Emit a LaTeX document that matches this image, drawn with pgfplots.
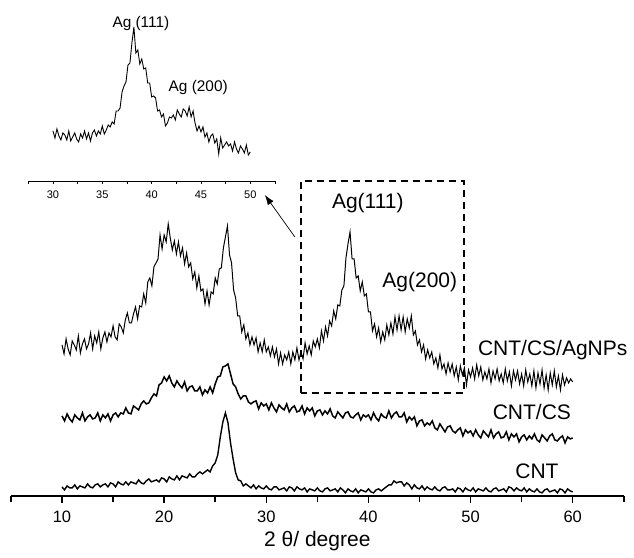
\documentclass[border=0pt]{standalone}
\usepackage{fontspec}
\setmainfont{Liberation Sans}
\usepackage{pgfplots}
\pgfplotsset{compat=1.18}
\usetikzlibrary{arrows.meta}

\begin{document}
\begin{tikzpicture}
% main XRD patterns
\begin{axis}[
  name=main, at={(0pt,0pt)}, anchor=south west,
  scale only axis, width=306.5pt, height=248pt,
  xmin=5, xmax=65, ymin=0, ymax=496,
  axis x line*=bottom, axis y line=none,
  xtick={10,20,...,60}, minor xtick={5,15,...,65},
  tick align=outside, major tick length=3.5pt, minor tick length=3pt,
  axis line style={line width=0.75pt},
  every tick/.style={line width=0.75pt, black},
  tick label style={font=\fontsize{8.25}{10}\selectfont},
  xticklabel style={yshift=-0.5pt},
  /pgf/number format/assume math mode=true,
  xlabel={2 θ/ degree},
  xlabel style={font=\fontsize{10.5}{12}\selectfont, yshift=2.5pt},
  clip=false,
]
\addplot[black, no markers, line width=0.5pt] coordinates {(10.0,151)(10.2,142)(10.4,157)(10.6,147)(10.8,141)(11.0,155)(11.2,151)(11.4,146)(11.6,160)(11.8,143)
(12.0,152)(12.2,157)(12.4,147)(12.6,152)(12.8,163)(13.0,147)(13.2,160)(13.4,153)(13.6,164)(13.8,147)
(14.0,158)(14.2,164)(14.4,154)(14.6,163)(14.8,159)(15.0,170)(15.2,159)(15.4,156)(15.6,172)(15.8,169)
(16.0,163)(16.2,176)(16.4,183)(16.6,173)(16.8,173)(17.0,182)(17.2,189)(17.4,177)(17.6,190)(17.8,189)
(18.0,202)(18.2,193)(18.4,214)(18.6,218)(18.8,210)(19.0,229)(19.2,233)(19.4,237)(19.6,261)(19.8,247)
(20.0,261)(20.2,254)(20.4,272)(20.6,258)(20.8,246)(21.0,255)(21.2,242)(21.4,254)(21.6,240)(21.8,248)
(22.0,232)(22.2,243)(22.4,229)(22.6,233)(22.8,217)(23.0,224)(23.2,208)(23.4,220)(23.6,205)(23.8,207)
(24.0,192)(24.2,205)(24.4,191)(24.6,204)(24.8,202)(25.0,218)(25.2,212)(25.4,227)(25.6,228)(25.8,248)
(26.0,259)(26.2,270)(26.4,241)(26.6,233)(26.8,206)(27.0,198)(27.2,180)(27.4,180)(27.6,164)(27.8,171)
(28.0,157)(28.2,163)(28.4,151)(28.6,159)(28.8,151)(29.0,158)(29.2,144)(29.4,153)(29.6,144)(29.8,156)
(30.0,144)(30.2,149)(30.4,140)(30.6,149)(30.8,139)(31.0,147)(31.2,132)(31.4,143)(31.6,132)(31.8,141)
(32.0,136)(32.2,144)(32.4,132)(32.6,144)(32.8,136)(33.0,148)(33.2,136)(33.4,144)(33.6,137)(33.8,153)
(34.0,142)(34.2,150)(34.4,141)(34.6,155)(34.8,149)(35.0,157)(35.2,148)(35.4,165)(35.6,155)(35.8,169)
(36.0,160)(36.2,175)(36.4,170)(36.6,185)(36.8,177)(37.0,191)(37.2,190)(37.4,206)(37.6,210)(37.8,238)
(38.0,252)(38.2,264)(38.4,237)(38.6,237)(38.8,218)(39.0,220)(39.2,205)(39.4,214)(39.6,200)(39.8,202)
(40.0,184)(40.2,184)(40.4,165)(40.6,172)(40.8,159)(41.0,168)(41.2,154)(41.4,164)(41.6,156)(41.8,171)
(42.0,161)(42.2,173)(42.4,162)(42.6,179)(42.8,166)(43.0,180)(43.2,166)(43.4,179)(43.6,164)(43.8,177)
(44.0,168)(44.2,180)(44.4,161)(44.6,165)(44.8,151)(45.0,156)(45.2,144)(45.4,151)(45.6,137)(45.8,146)
(46.0,138)(46.2,144)(46.4,132)(46.6,138)(46.8,128)(47.0,141)(47.2,127)(47.4,132)(47.6,122)(47.8,133)
(48.0,124)(48.2,132)(48.4,120)(48.6,129)(48.8,116)(49.0,130)(49.2,121)(49.4,128)(49.6,111)(49.8,126)
(50.0,119)(50.2,128)(50.4,117)(50.6,131)(50.8,120)(51.0,129)(51.2,116)(51.4,124)(51.6,117)(51.8,127)
(52.0,113)(52.2,125)(52.4,117)(52.6,127)(52.8,115)(53.0,122)(53.2,113)(53.4,127)(53.6,115)(53.8,124)
(54.0,110)(54.2,125)(54.4,116)(54.6,125)(54.8,112)(55.0,122)(55.2,110)(55.4,126)(55.6,114)(55.8,122)
(56.0,110)(56.2,125)(56.4,108)(56.6,123)(56.8,112)(57.0,126)(57.2,108)(57.4,121)(57.6,106)(57.8,123)
(58.0,111)(58.2,125)(58.4,109)(58.6,120)(58.8,106)(59.0,121)(59.2,111)(59.4,118)(59.6,113)(59.8,117)
(60.0,114)};
% CNT/CS
\addplot[black, no markers, line width=0.75pt] coordinates {(10.00,80)(10.25,75)(10.50,82)(10.75,77)(11.00,74)(11.25,81)(11.50,78)(11.75,76)
(12.00,83)(12.25,75)(12.50,79)(12.75,81)(13.00,77)(13.25,78)(13.50,83)(13.75,75)
(14.00,81)(14.25,78)(14.50,82)(14.75,75)(15.00,81)(15.25,83)(15.50,79)(15.75,83)
(16.00,82)(16.25,88)(16.50,83)(16.75,82)(17.00,90)(17.25,88)(17.50,86)(17.75,92)
(18.00,95)(18.25,92)(18.50,93)(18.75,98)(19.00,102)(19.25,100)(19.50,111)(19.75,113)
(20.00,119)(20.25,115)(20.50,120)(20.75,113)(21.00,109)(21.25,115)(21.50,111)(21.75,108)
(22.00,114)(22.25,105)(22.50,109)(22.75,110)(23.00,105)(23.25,105)(23.50,109)(23.75,101)
(24.00,106)(24.25,103)(24.50,109)(24.75,103)(25.00,112)(25.25,119)(25.50,120)(25.75,129)
(26.00,130)(26.25,132)(26.50,122)(26.75,112)(27.00,109)(27.25,102)(27.50,97)(27.75,100)
(28.00,100)(28.25,94)(28.50,92)(28.75,94)(29.00,95)(29.25,87)(29.50,93)(29.75,90)
(30.00,92)(30.25,86)(30.50,93)(30.75,88)(31.00,84)(31.25,91)(31.50,88)(31.75,86)
(32.00,92)(32.25,84)(32.50,88)(32.75,90)(33.00,84)(33.25,85)(33.50,90)(33.75,82)
(34.00,88)(34.25,85)(34.50,88)(34.75,80)(35.00,85)(35.25,86)(35.50,81)(35.75,85)
(36.00,82)(36.25,87)(36.50,80)(36.75,78)(37.00,84)(37.25,81)(37.50,78)(37.75,83)
(38.00,84)(38.25,79)(38.50,78)(38.75,81)(39.00,83)(39.25,76)(39.50,81)(39.75,79)
(40.00,81)(40.25,76)(40.50,83)(40.75,78)(41.00,75)(41.25,82)(41.50,79)(41.75,78)
(42.00,85)(42.25,78)(42.50,82)(42.75,84)(43.00,79)(43.25,79)(43.50,83)(43.75,74)
(44.00,79)(44.25,76)(44.50,79)(44.75,70)(45.00,75)(45.25,76)(45.50,70)(45.75,73)
(46.00,71)(46.25,75)(46.50,68)(46.75,66)(47.00,72)(47.25,68)(47.50,64)(47.75,69)
(48.00,70)(48.25,65)(48.50,63)(48.75,66)(49.00,68)(49.25,60)(49.50,66)(49.75,63)
(50.00,65)(50.25,60)(50.50,66)(50.75,61)(51.00,58)(51.25,65)(51.50,62)(51.75,59)
(52.00,66)(52.25,58)(52.50,62)(52.75,64)(53.00,58)(53.25,59)(53.50,64)(53.75,56)
(54.00,62)(54.25,59)(54.50,62)(54.75,54)(55.00,59)(55.25,61)(55.50,56)(55.75,60)
(56.00,57)(56.25,62)(56.50,56)(56.75,54)(57.00,61)(57.25,58)(57.50,55)(57.75,60)
(58.00,62)(58.25,56)(58.50,55)(58.75,58)(59.00,60)(59.25,53)(59.50,59)(59.75,57)
(60.00,58)};
% CNT
\addplot[black, no markers, line width=0.7pt] coordinates {(10.00,9)(10.25,6)(10.50,10)(10.75,8)(11.00,8)(11.25,11)(11.50,7)(11.75,10)
(12.00,9)(12.25,8)(12.50,12)(12.75,9)(13.00,8)(13.25,11)(13.50,12)(13.75,9)
(14.00,11)(14.25,12)(14.50,9)(14.75,13)(15.00,12)(15.25,9)(15.50,14)(15.75,12)
(16.00,11)(16.25,14)(16.50,11)(16.75,14)(17.00,13)(17.25,12)(17.50,16)(17.75,13)
(18.00,12)(18.25,15)(18.50,17)(18.75,14)(19.00,15)(19.25,16)(19.50,14)(19.75,18)
(20.00,17)(20.25,14)(20.50,19)(20.75,17)(21.00,16)(21.25,20)(21.50,16)(21.75,20)
(22.00,19)(22.25,18)(22.50,22)(22.75,19)(23.00,19)(23.25,22)(23.50,24)(23.75,22)
(24.00,24)(24.25,26)(24.50,24)(24.75,30)(25.00,33)(25.25,41)(25.50,59)(25.75,74)
(26.00,83)(26.25,73)(26.50,53)(26.75,37)(27.00,23)(27.25,16)(27.50,15)(27.75,10)
(28.00,12)(28.25,10)(28.50,8)(28.75,11)(29.00,7)(29.25,10)(29.50,8)(29.75,7)
(30.00,10)(30.25,7)(30.50,6)(30.75,9)(31.00,9)(31.25,6)(31.50,7)(31.75,8)
(32.00,5)(32.25,9)(32.50,8)(32.75,5)(33.00,9)(33.25,7)(33.50,6)(33.75,8)
(34.00,4)(34.25,7)(34.50,6)(34.75,5)(35.00,8)(35.25,5)(35.50,4)(35.75,7)
(36.00,8)(36.25,5)(36.50,6)(36.75,7)(37.00,4)(37.25,8)(37.50,6)(37.75,3)
(38.00,7)(38.25,5)(38.50,4)(38.75,7)(39.00,3)(39.25,6)(39.50,5)(39.75,4)
(40.00,7)(40.25,4)(40.50,3)(40.75,6)(41.00,7)(41.25,5)(41.50,7)(41.75,9)
(42.00,11)(42.25,11)(42.50,15)(42.75,13)(43.00,14)(43.25,14)(43.50,10)(43.75,13)
(44.00,11)(44.25,7)(44.50,11)(44.75,8)(45.00,7)(45.25,10)(45.50,6)(45.75,9)
(46.00,7)(46.25,6)(46.50,9)(46.75,6)(47.00,5)(47.25,8)(47.50,9)(47.75,6)
(48.00,6)(48.25,7)(48.50,4)(48.75,8)(49.00,7)(49.25,4)(49.50,8)(49.75,6)
(50.00,5)(50.25,8)(50.50,4)(50.75,7)(51.00,6)(51.25,5)(51.50,8)(51.75,5)
(52.00,4)(52.25,7)(52.50,8)(52.75,5)(53.00,6)(53.25,7)(53.50,4)(53.75,9)
(54.00,8)(54.25,5)(54.50,8)(54.75,6)(55.00,5)(55.25,8)(55.50,4)(55.75,7)
(56.00,5)(56.25,4)(56.50,7)(56.75,4)(57.00,3)(57.25,6)(57.50,7)(57.75,4)
(58.00,5)(58.25,6)(58.50,3)(58.75,7)(59.00,6)(59.25,3)(59.50,7)(59.75,5)
(60.00,4)};
\node[font=\fontsize{10.5}{12}\selectfont] at (axis cs:39.94,293) {Ag(111)};
\node[font=\fontsize{10.5}{12}\selectfont] at (axis cs:45.03,214) {Ag(200)};
\node[font=\fontsize{10.5}{12}\selectfont] at (axis cs:58.04,146) {CNT/CS/AgNPs};
\node[font=\fontsize{10.5}{12}\selectfont] at (axis cs:56.0,84) {CNT/CS};
\node[font=\fontsize{10.5}{12}\selectfont] at (axis cs:56.5,25) {CNT};
\draw[line width=1pt, dash pattern=on 3.5pt off 2.5pt] (axis cs:33.36,103) rectangle (axis cs:49.33,315);
\draw[line width=0.35pt, -{Latex[length=5pt,width=3.5pt]}] (axis cs:32.8,259) -- (axis cs:29.86,301);
\path (axis cs:3.93,-54) rectangle (axis cs:65.97,496);
\end{axis}
% inset
\begin{axis}[
  at={(8.7pt,157.5pt)}, anchor=south west,
  scale only axis, width=123.35pt, height=90.5pt,
  xmin=27.5, xmax=52.5, ymin=0, ymax=181,
  axis x line*=bottom, axis y line=none,
  xtick={30,35,...,50}, minor xtick={27.5,32.5,...,52.5},
  tick align=outside, major tick length=1.5pt, minor tick length=1.5pt,
  axis line style={line width=0.4pt},
  every tick/.style={line width=0.4pt, black},
  tick label style={font=\fontsize{5.5}{6.5}\selectfont},
  /pgf/number format/assume math mode=true,
  clip=false,
]
\addplot[black, no markers, line width=0.45pt] coordinates {(30.0,50)(30.2,43)(30.4,52)(30.6,45)(30.8,41)(31.0,48)(31.2,46)(31.4,41)(31.6,50)(31.8,40)
(32.0,44)(32.2,48)(32.4,42)(32.6,39)(32.8,47)(33.0,43)(33.2,50)(33.4,42)(33.6,48)(33.8,40)
(34.0,48)(34.2,51)(34.4,45)(34.6,50)(34.8,47)(35.0,55)(35.2,47)(35.4,51)(35.6,56)(35.8,54)
(36.0,59)(36.2,57)(36.4,70)(36.6,70)(36.8,73)(37.0,89)(37.2,95)(37.4,99)(37.6,116)(37.8,118)
(38.0,138)(38.2,154)(38.4,128)(38.6,131)(38.8,117)(39.0,122)(39.2,112)(39.4,113)(39.6,98)(39.8,98)
(40.0,84)(40.2,85)(40.4,83)(40.6,70)(40.8,71)(41.0,64)(41.2,67)(41.4,55)(41.6,58)(41.8,64)
(42.0,63)(42.2,66)(42.4,61)(42.6,71)(42.8,67)(43.0,64)(43.2,72)(43.4,70)(43.6,65)(43.8,74)
(44.0,64)(44.2,70)(44.4,58)(44.6,50)(44.8,55)(45.0,49)(45.2,54)(45.4,44)(45.6,48)(45.8,39)
(46.0,45)(46.2,47)(46.4,38)(46.6,42)(46.8,27)(47.0,43)(47.2,33)(47.4,36)(47.6,39)(47.8,35)
(48.0,37)(48.2,30)(48.4,39)(48.6,32)(48.8,28)(49.0,35)(49.2,32)(49.4,28)(49.6,36)(49.8,26)
(50.0,29)};
\node[font=\fontsize{7.7}{9}\selectfont] at (axis cs:38.91,157) {Ag (111)};
\node[font=\fontsize{7.7}{9}\selectfont] at (axis cs:44.72,93) {Ag (200)};
\end{axis}
\end{tikzpicture}
\end{document}
